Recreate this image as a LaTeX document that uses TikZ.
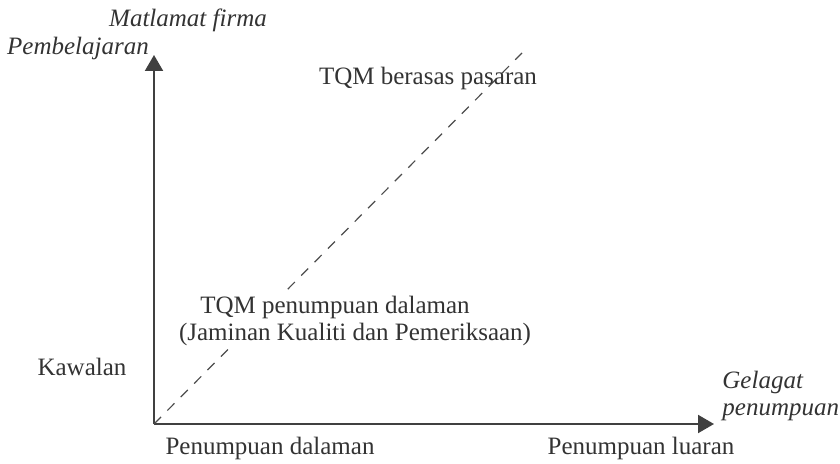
\documentclass[tikz,border=0pt]{standalone}
\usepackage{fontspec}
\setmainfont{Liberation Serif}
\usetikzlibrary{arrows.meta}
\tikzset{
  axis/.style={line width=1pt, black!75, -{Triangle[length=8pt,width=9pt]}},
  diag/.style={line width=0.6pt, black!70, dash pattern=on 5pt off 4.5pt},
  lbl/.style={inner sep=0pt, text=black!80, font=\fontsize{12.5}{14}\selectfont},
  ilbl/.style={lbl, font=\fontsize{12.5}{14}\selectfont\itshape},
  cover/.style={lbl, fill=white, inner ysep=2pt, inner xsep=1pt}
}
\begin{document}
\begin{tikzpicture}[x=0.5pt,y=-0.5pt]
    \useasboundingbox (0,0) rectangle (840,464);

    % Axes
    \coordinate (o) at (154,424);
    \coordinate (ytip) at (154,55);
    \coordinate (xtip) at (714,424);
    \coordinate (dtop) at (522,53);
    \draw[axis] (o) -- (ytip);
    \draw[axis] (o) -- (xtip);

    % Diagonal
    \draw[diag] (o) -- (dtop);

    % Axis labels
    \node[ilbl] (goal) at (188,20) {Matlamat firma};
    \node[ilbl] (learn) at (78,48) {Pembelajaran};
    \node[lbl] (control) at (82,367) {Kawalan};
    \node[ilbl, anchor=west] (behav) at (722,382) {Gelagat};
    \node[ilbl, anchor=west] (focus) at (722,412) {penumpuan};
    \node[lbl] (inner) at (270,448) {Penumpuan dalaman};
    \node[lbl] (outer) at (641,448) {Penumpuan luaran};

    % Regions
    \node[lbl] (market) at (428,78) {TQM berasas pasaran};
    \node[cover] (qa) at (355,334) {(Jaminan Kualiti dan Pemeriksaan)};
    \node[cover] (intq) at (335,307) {TQM penumpuan dalaman};
\end{tikzpicture}
\end{document}
